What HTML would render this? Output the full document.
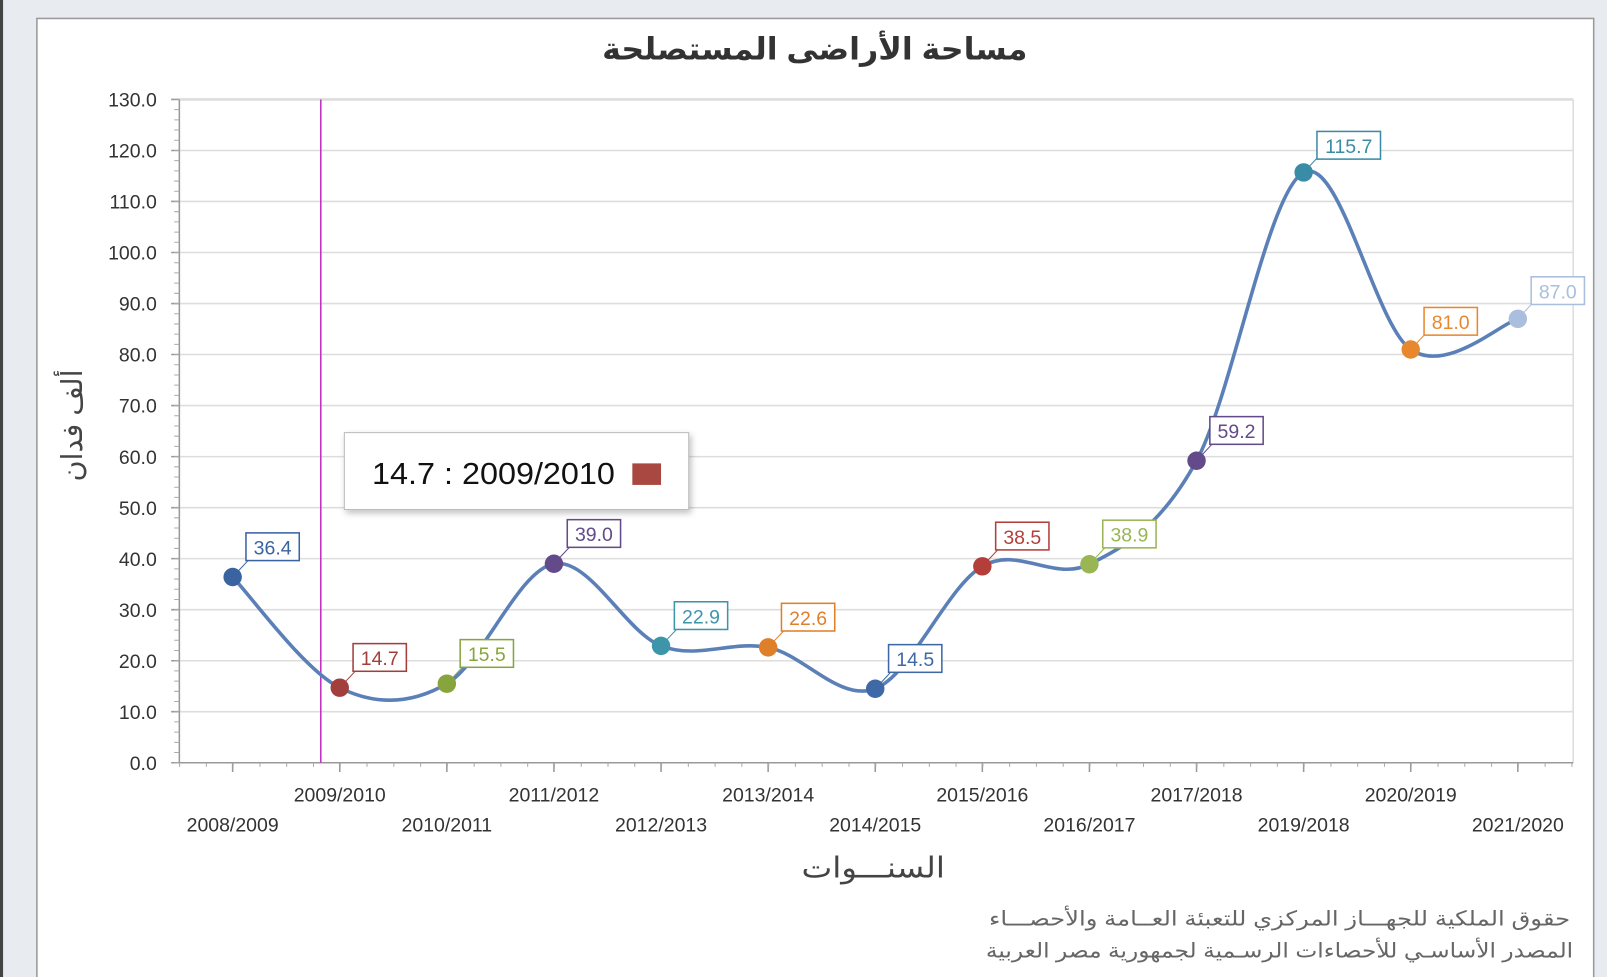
<!DOCTYPE html>
<html><head><meta charset="utf-8"><style>
html,body{margin:0;padding:0;background:#e8ebef;width:1607px;height:977px;overflow:hidden}
svg{display:block}
text{font-family:"Liberation Sans","DejaVu Sans",sans-serif}
</style></head><body>
<svg width="1607" height="977" viewBox="0 0 1568 953" preserveAspectRatio="none" xmlns="http://www.w3.org/2000/svg">
<defs><filter id="sh" x="-10%" y="-10%" width="130%" height="140%"><feDropShadow dx="2" dy="3" stdDeviation="3" flood-color="#000" flood-opacity="0.25"/></filter></defs>
<rect x="0" y="0" width="3" height="953" fill="#444"/>
<rect x="36" y="18" width="1519" height="940" fill="#fff" stroke="#999" stroke-width="1.5"/>
<text x="795" y="58" text-anchor="middle" font-size="30" font-weight="bold" fill="#333" font-family="'DejaVu Sans',sans-serif" textLength="415" lengthAdjust="spacingAndGlyphs">مساحة الأراضى المستصلحة</text>

<g stroke="#ddd" stroke-width="1.5">
<line x1="175" y1="694.2" x2="1535" y2="694.2"/><line x1="175" y1="644.5" x2="1535" y2="644.5"/>
<line x1="175" y1="594.7" x2="1535" y2="594.7"/><line x1="175" y1="544.9" x2="1535" y2="544.9"/>
<line x1="175" y1="495.2" x2="1535" y2="495.2"/><line x1="175" y1="445.4" x2="1535" y2="445.4"/>
<line x1="175" y1="395.6" x2="1535" y2="395.6"/><line x1="175" y1="345.8" x2="1535" y2="345.8"/>
<line x1="175" y1="296.1" x2="1535" y2="296.1"/><line x1="175" y1="246.3" x2="1535" y2="246.3"/>
<line x1="175" y1="196.5" x2="1535" y2="196.5"/><line x1="175" y1="146.8" x2="1535" y2="146.8"/>
<line x1="175" y1="97" x2="1535" y2="97" stroke-width="2.5"/>
<line x1="1535" y1="97" x2="1535" y2="744"/>
</g>
<g stroke="#999" stroke-width="1.5">
<line x1="175" y1="97" x2="175" y2="744"/>
<line x1="175" y1="744" x2="1535" y2="744"/>
<path d="M167 744H175M167 694.2H175M167 644.5H175M167 594.7H175M167 544.9H175M167 495.2H175M167 445.4H175M167 395.6H175M167 345.8H175M167 296.1H175M167 246.3H175M167 196.5H175M167 146.8H175M167 97H175"/>
<path d="M227 744V753M331.5 744V753M436 744V753M540.5 744V753M645 744V753M749.5 744V753M854 744V753M958.5 744V753M1063 744V753M1167.5 744V753M1272 744V753M1376.5 744V753M1481 744V753"/>
</g>
<line x1="172.5" y1="744.5" x2="172.5" y2="97" stroke="#aaa" stroke-width="5" stroke-dasharray="1 8.954"/>
<line x1="174.75" y1="746" x2="1535" y2="746" stroke="#aaa" stroke-width="4" stroke-dasharray="1 25.125"/>

<g font-size="19" fill="#333" text-anchor="end">
<text x="153" y="751">0.0</text><text x="153" y="701.2">10.0</text><text x="153" y="651.5">20.0</text>
<text x="153" y="601.7">30.0</text><text x="153" y="551.9">40.0</text><text x="153" y="502.2">50.0</text>
<text x="153" y="452.4">60.0</text><text x="153" y="402.6">70.0</text><text x="153" y="352.8">80.0</text>
<text x="153" y="303.1">90.0</text><text x="153" y="253.3">100.0</text><text x="153" y="203.5">110.0</text>
<text x="153" y="153.8">120.0</text><text x="153" y="104">130.0</text>
</g>
<g font-size="19" fill="#333" text-anchor="middle">
<text x="227" y="811">2008/2009</text><text x="331.5" y="782">2009/2010</text>
<text x="436" y="811">2010/2011</text><text x="540.5" y="782">2011/2012</text>
<text x="645" y="811">2012/2013</text><text x="749.5" y="782">2013/2014</text>
<text x="854" y="811">2014/2015</text><text x="958.5" y="782">2015/2016</text>
<text x="1063" y="811">2016/2017</text><text x="1167.5" y="782">2017/2018</text>
<text x="1272" y="811">2019/2018</text><text x="1376.5" y="782">2020/2019</text>
<text x="1481" y="811">2021/2020</text>
</g>

<line x1="313" y1="97" x2="313" y2="744" stroke="#c030c0" stroke-width="1.5"/>

<path fill="none" stroke="#5b80b8" stroke-width="3.5" d="M227,562.8 C244.4,580.8 296.7,653.5 331.5,670.8 C366.3,688.2 401.2,687.1 436,666.9 C470.8,646.8 505.7,556.1 540.5,549.9 C575.3,543.8 610.2,616.4 645,630.0 C679.8,643.6 714.7,624.5 749.5,631.5 C784.3,638.5 819.2,685.0 854,671.8 C888.8,658.6 923.7,572.6 958.5,552.4 C993.3,532.2 1028.2,567.6 1063,550.4 C1097.8,533.2 1132.7,513.1 1167.5,449.4 C1202.3,385.7 1237.2,186.3 1272,168.2 C1306.8,150.1 1341.7,317.1 1376.5,340.9 C1411.3,364.7 1463.6,316.0 1481,311.0"/>

<g font-size="19" text-anchor="middle">
<g fill="#3a64a0" stroke="#3a64a0"><line x1="227" y1="562.8" x2="242" y2="546.8"/><circle cx="227" cy="562.8" r="9" stroke="none"/><rect x="240" y="519.8" width="52" height="27" fill="#fff" stroke-width="1.5"/><text x="266" y="540.8" stroke="none">36.4</text></g>
<g fill="#a23e3c" stroke="#a23e3c"><line x1="331.5" y1="670.8" x2="346.5" y2="654.8"/><circle cx="331.5" cy="670.8" r="9" stroke="none"/><rect x="344.5" y="627.8" width="52" height="27" fill="#fff" stroke-width="1.5"/><text x="370.5" y="648.8" stroke="none">14.7</text></g>
<g fill="#88a43c" stroke="#88a43c"><line x1="436" y1="666.9" x2="451" y2="650.9"/><circle cx="436" cy="666.9" r="9" stroke="none"/><rect x="449" y="623.9" width="52" height="27" fill="#fff" stroke-width="1.5"/><text x="475" y="644.9" stroke="none">15.5</text></g>
<g fill="#634a8a" stroke="#634a8a"><line x1="540.5" y1="549.9" x2="555.5" y2="533.9"/><circle cx="540.5" cy="549.9" r="9" stroke="none"/><rect x="553.5" y="506.9" width="52" height="27" fill="#fff" stroke-width="1.5"/><text x="579.5" y="527.9" stroke="none">39.0</text></g>
<g fill="#3d95aa" stroke="#3d95aa"><line x1="645" y1="630" x2="660" y2="614"/><circle cx="645" cy="630" r="9" stroke="none"/><rect x="658" y="587" width="52" height="27" fill="#fff" stroke-width="1.5"/><text x="684" y="608" stroke="none">22.9</text></g>
<g fill="#e07f2a" stroke="#e07f2a"><line x1="749.5" y1="631.5" x2="764.5" y2="615.5"/><circle cx="749.5" cy="631.5" r="9" stroke="none"/><rect x="762.5" y="588.5" width="52" height="27" fill="#fff" stroke-width="1.5"/><text x="788.5" y="609.5" stroke="none">22.6</text></g>
<g fill="#3e68a6" stroke="#3e68a6"><line x1="854" y1="671.8" x2="869" y2="655.8"/><circle cx="854" cy="671.8" r="9" stroke="none"/><rect x="867" y="628.8" width="52" height="27" fill="#fff" stroke-width="1.5"/><text x="893" y="649.8" stroke="none">14.5</text></g>
<g fill="#b33e3a" stroke="#b33e3a"><line x1="958.5" y1="552.4" x2="973.5" y2="536.4"/><circle cx="958.5" cy="552.4" r="9" stroke="none"/><rect x="971.5" y="509.4" width="52" height="27" fill="#fff" stroke-width="1.5"/><text x="997.5" y="530.4" stroke="none">38.5</text></g>
<g fill="#9ab654" stroke="#9ab654"><line x1="1063" y1="550.4" x2="1078" y2="534.4"/><circle cx="1063" cy="550.4" r="9" stroke="none"/><rect x="1076" y="507.4" width="52" height="27" fill="#fff" stroke-width="1.5"/><text x="1102" y="528.4" stroke="none">38.9</text></g>
<g fill="#634a8a" stroke="#634a8a"><line x1="1167.5" y1="449.4" x2="1182.5" y2="433.4"/><circle cx="1167.5" cy="449.4" r="9" stroke="none"/><rect x="1180.5" y="406.4" width="52" height="27" fill="#fff" stroke-width="1.5"/><text x="1206.5" y="427.4" stroke="none">59.2</text></g>
<g fill="#3a8ca6" stroke="#3a8ca6"><line x1="1272" y1="168.2" x2="1287" y2="152.2"/><circle cx="1272" cy="168.2" r="9" stroke="none"/><rect x="1285" y="128.2" width="62" height="27" fill="#fff" stroke-width="1.5"/><text x="1316" y="149.2" stroke="none">115.7</text></g>
<g fill="#e8882e" stroke="#e8882e"><line x1="1376.5" y1="340.9" x2="1391.5" y2="324.9"/><circle cx="1376.5" cy="340.9" r="9" stroke="none"/><rect x="1389.5" y="299.9" width="52" height="27" fill="#fff" stroke-width="1.5"/><text x="1415.5" y="320.9" stroke="none">81.0</text></g>
<g fill="#a9bfdd" stroke="#a9bfdd"><line x1="1481" y1="311" x2="1496" y2="295"/><circle cx="1481" cy="311" r="9" stroke="none"/><rect x="1494" y="270" width="52" height="27" fill="#fff" stroke-width="1.5"/><text x="1520" y="291" stroke="none">87.0</text></g>
</g>

<text transform="translate(80,415) rotate(-90)" text-anchor="middle" font-size="28" fill="#444" font-family="'DejaVu Sans',sans-serif">ألف فدان</text>
<text x="852" y="856" text-anchor="middle" font-size="28" fill="#444" font-family="'DejaVu Sans',sans-serif" textLength="140" lengthAdjust="spacingAndGlyphs">السنـــوات</text>
<text x="1532" y="903" text-anchor="end" font-size="20" fill="#666" font-family="'DejaVu Sans',sans-serif" textLength="567" lengthAdjust="spacingAndGlyphs">حقوق الملكية للجهـــاز المركزي للتعبئة العــامة والأحصـــاء</text>
<text x="1535" y="934" text-anchor="end" font-size="20" fill="#666" font-family="'DejaVu Sans',sans-serif" textLength="573" lengthAdjust="spacingAndGlyphs">المصدر الأساسـي للأحصاءات الرسـمية لجمهورية مصر العربية</text>

<rect x="336" y="422" width="336" height="75" fill="#fff" stroke="#bbb" filter="url(#sh)"/>
<text x="363" y="472" font-size="30" fill="#111" textLength="237" lengthAdjust="spacingAndGlyphs">14.7 : 2009/2010</text>
<rect x="617" y="452" width="28" height="21" fill="#a84840"/>
</svg>
</body></html>
